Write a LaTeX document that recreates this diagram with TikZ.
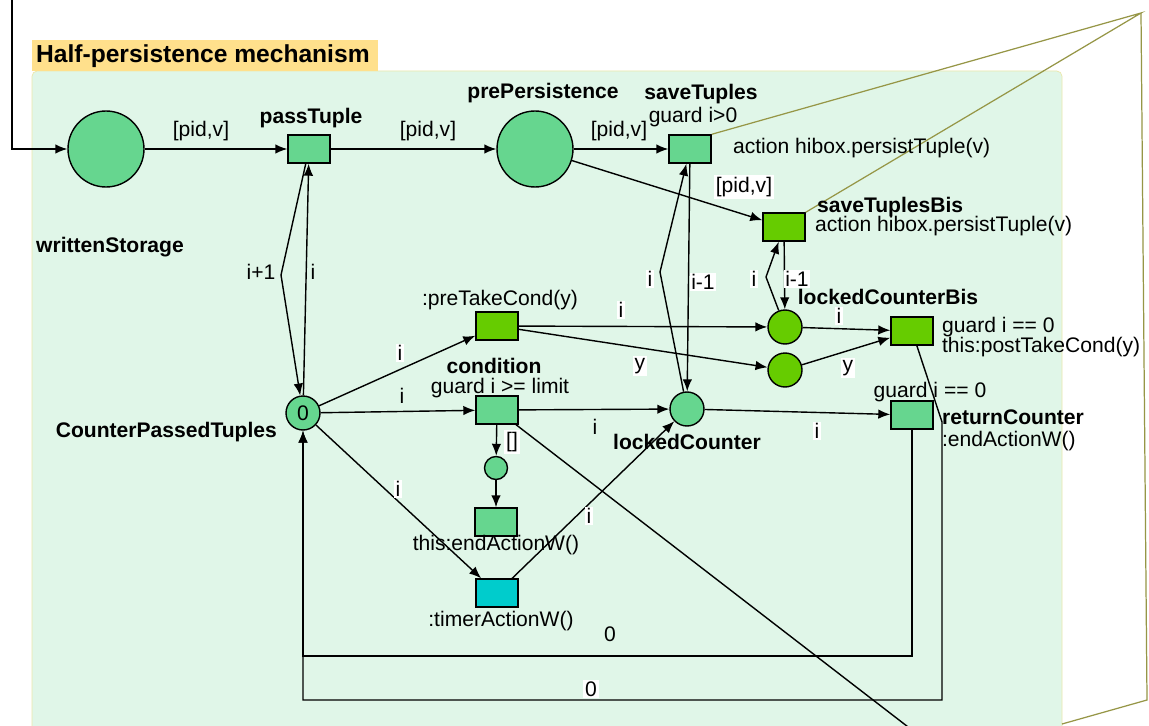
\documentclass[tikz,border=0pt]{standalone}
\usepackage{fontspec}
\setmainfont{Liberation Sans}
\usetikzlibrary{arrows.meta}

\definecolor{panelgreen}{RGB}{224,246,232}
\definecolor{panelrim}{RGB}{236,232,170}
\definecolor{titleyellow}{RGB}{255,224,140}
\definecolor{placegreen}{RGB}{102,214,143}
\definecolor{darkgreen}{RGB}{102,204,0}
\definecolor{timercyan}{RGB}{0,204,204}
\definecolor{calloutolive}{RGB}{150,150,70}

\begin{document}
\begin{tikzpicture}
[x=0.02cm,y=-0.02cm,
 every node/.style={font=\fontsize{12}{13}\selectfont,inner sep=1pt},
 place/.style={circle,draw,line width=0.8pt,fill=placegreen,inner sep=0pt},
 bigplace/.style={place,minimum size=1.52cm},
 smallplace/.style={place,minimum size=0.68cm},
 tinyplace/.style={place,minimum size=0.46cm},
 trans/.style={rectangle,draw,line width=0.8pt,fill=placegreen,inner sep=0pt,minimum width=0.84cm,minimum height=0.56cm},
 pname/.style={font=\bfseries\fontsize{12}{13}\selectfont},
 lbl/.style={inner sep=1pt},
 wlbl/.style={inner sep=1pt,fill=white},
 arc/.style={-{Latex[length=2.4mm,width=1.9mm]},line width=0.8pt}]
\useasboundingbox (0,0) rectangle (1149,726);

% background panel and title
\fill[white] (0,0) rectangle (1149,726);
\draw[panelrim,fill=panelgreen,rounded corners=3pt] (32,740) -- (32,71) -- (1062,71) -- (1062,740);
\fill[titleyellow] (32,40) rectangle (378,71);
\node[anchor=west,font=\bfseries\fontsize{14}{16}\selectfont] (title) at (34,56) {Half-persistence mechanism};

% places
\node[bigplace] (ws) at (106,149) {};
\node[bigplace] (pp) at (535,149) {};
\node[smallplace] (cpt) at (303,413) {0};
\node[smallplace] (lc) at (687,409) {};
\node[smallplace,fill=darkgreen] (lcb) at (785,327) {};
\node[smallplace,fill=darkgreen] (yp) at (785,370) {};
\node[tinyplace] (sp) at (496,468) {};

% transitions
\node[trans] (pt) at (309,149) {};
\node[trans] (st) at (690,149) {};
\node[trans,fill=darkgreen] (stb) at (784,227) {};
\node[trans,fill=darkgreen] (ptc) at (497,326) {};
\node[trans,fill=darkgreen] (ptk) at (912,331) {};
\node[trans] (cond) at (497,410) {};
\node[trans] (rc) at (912,415) {};
\node[trans] (ea) at (496,522) {};
\node[trans,fill=timercyan] (tm) at (497,593) {};

% bends and loose ends
\coordinate (in0) at (12,0);
\coordinate (b1) at (281,275);
\coordinate (b2) at (660,272);
\coordinate (b3) at (766,277);
\coordinate (c1) at (912,656);
\coordinate (c2) at (303,656);
\coordinate (c3) at (942,422);
\coordinate (c4) at (942,700);
\coordinate (c5) at (303,700);
\coordinate (out1) at (912,730);
\coordinate (apex) at (1141,13);
\coordinate (r1) at (1147,700);
\coordinate (r2) at (1062,724);

% callout lines
\draw[calloutolive,line width=0.7pt] (st.north east) -- (apex) -- (stb.north east);
\draw[calloutolive,line width=0.7pt] (apex) -- (r1) -- (r2);

% arcs
\draw[arc] (in0) |- (ws);
\draw[arc] (ws) -- (pt);
\draw[arc] (pt) -- (pp);
\draw[arc] (pp) -- (st);
\draw[arc] (pp) -- (stb);
\draw[arc] (cpt) -- (pt);
\draw[arc] (pt) -- (b1) -- (cpt);
\draw[arc] (lc) -- (b2) -- (st);
\draw[arc] (st) -- (lc);
\draw[arc] (lcb) -- (b3) -- (stb);
\draw[arc] (stb) -- (lcb);
\draw[arc] (cpt) -- (ptc);
\draw[arc] (ptc) -- (lcb);
\draw[arc] (ptc) -- (yp);
\draw[arc] (lcb) -- (ptk);
\draw[arc] (yp) -- (ptk);
\draw[arc] (cpt) -- (cond);
\draw[arc] (cond) -- (lc);
\draw[arc] (cond) -- (sp);
\draw[arc] (sp) -- (ea);
\draw[arc] (cpt) -- (tm);
\draw[arc] (tm) -- (lc);
\draw[arc] (lc) -- (rc);
\draw[line width=0.8pt] (cond) -- (out1);
\draw[arc] (rc) -- (c1) -- (c2) -- (cpt);
\draw[arc] (ptk) -- (c3) -- (c4) -- (c5) -- (cpt);

% names and inscriptions
\node[pname] (wsname) at (110,247) {writtenStorage};
\node[pname] (ptname) at (311,118) {passTuple};
\node[pname] (ppname) at (543,93) {prePersistence};
\node[pname] (stname) at (701,94) {saveTuples};
\node (stguard) at (693,117) {guard i>0};
\node[anchor=west] (staction) at (731,148) {action hibox.persistTuple(v)};
\node[pname,anchor=west] (stbname) at (815,207) {saveTuplesBis};
\node[anchor=west] (stbaction) at (813,226) {action hibox.persistTuple(v)};
\node[pname] (lcbname) at (888,297) {lockedCounterBis};
\node[pname] (lcname) at (687,442) {lockedCounter};
\node (ptcname) at (500,300) {:preTakeCond(y)};
\node[pname,inner sep=0pt] (condname) at (494,366) {condition};
\node[inner sep=0pt] (condguard) at (500,388) {guard i >= limit};
\node[pname,anchor=east] (cptname) at (279,432) {CounterPassedTuples};
\node (eaname) at (496,545) {this:endActionW()};
\node (tmname) at (501,621) {:timerActionW()};
\node[anchor=west] (ptkguard) at (940,327) {guard i == 0};
\node[anchor=west] (ptkaction) at (940,347) {this:postTakeCond(y)};
\node (rcguard) at (930,392) {guard i == 0};
\node[pname,anchor=west] (rcname) at (940,417) {returnCounter};
\node[anchor=west] (rcaction) at (940,441) {:endActionW()};

% arc inscriptions
\node[lbl] (a1) at (201,131) {[pid,v]};
\node[lbl] (a2) at (428,131) {[pid,v]};
\node[lbl] (a3) at (619,131) {[pid,v]};
\node[wlbl] (a4) at (744,187) {[pid,v]};
\node[lbl] (a5) at (261,272) {i+1};
\node[lbl] (a6) at (313,272) {i};
\node[wlbl] (a7) at (650,279) {i};
\node[wlbl] (a8) at (703,282) {i-1};
\node[wlbl] (a9) at (754,279) {i};
\node[wlbl] (a10) at (797,279) {i-1};
\node[wlbl] (a11) at (621,310) {i};
\node[wlbl] (a12) at (640,366) {y};
\node[wlbl] (a13) at (839,316) {i};
\node[wlbl] (a14) at (848,368) {y};
\node[wlbl] (a15) at (400,353) {i};
\node[lbl] (a16) at (402,396) {i};
\node[lbl] (a17) at (595,427) {i};
\node[wlbl] (a18) at (512,442) {[]};
\node[wlbl] (a19) at (398,489) {i};
\node[wlbl] (a20) at (589,516) {i};
\node[wlbl] (a21) at (817,431) {i};
\node[lbl] (a22) at (610,634) {0};
\node[wlbl] (a23) at (591,689) {0};
\end{tikzpicture}
\end{document}
